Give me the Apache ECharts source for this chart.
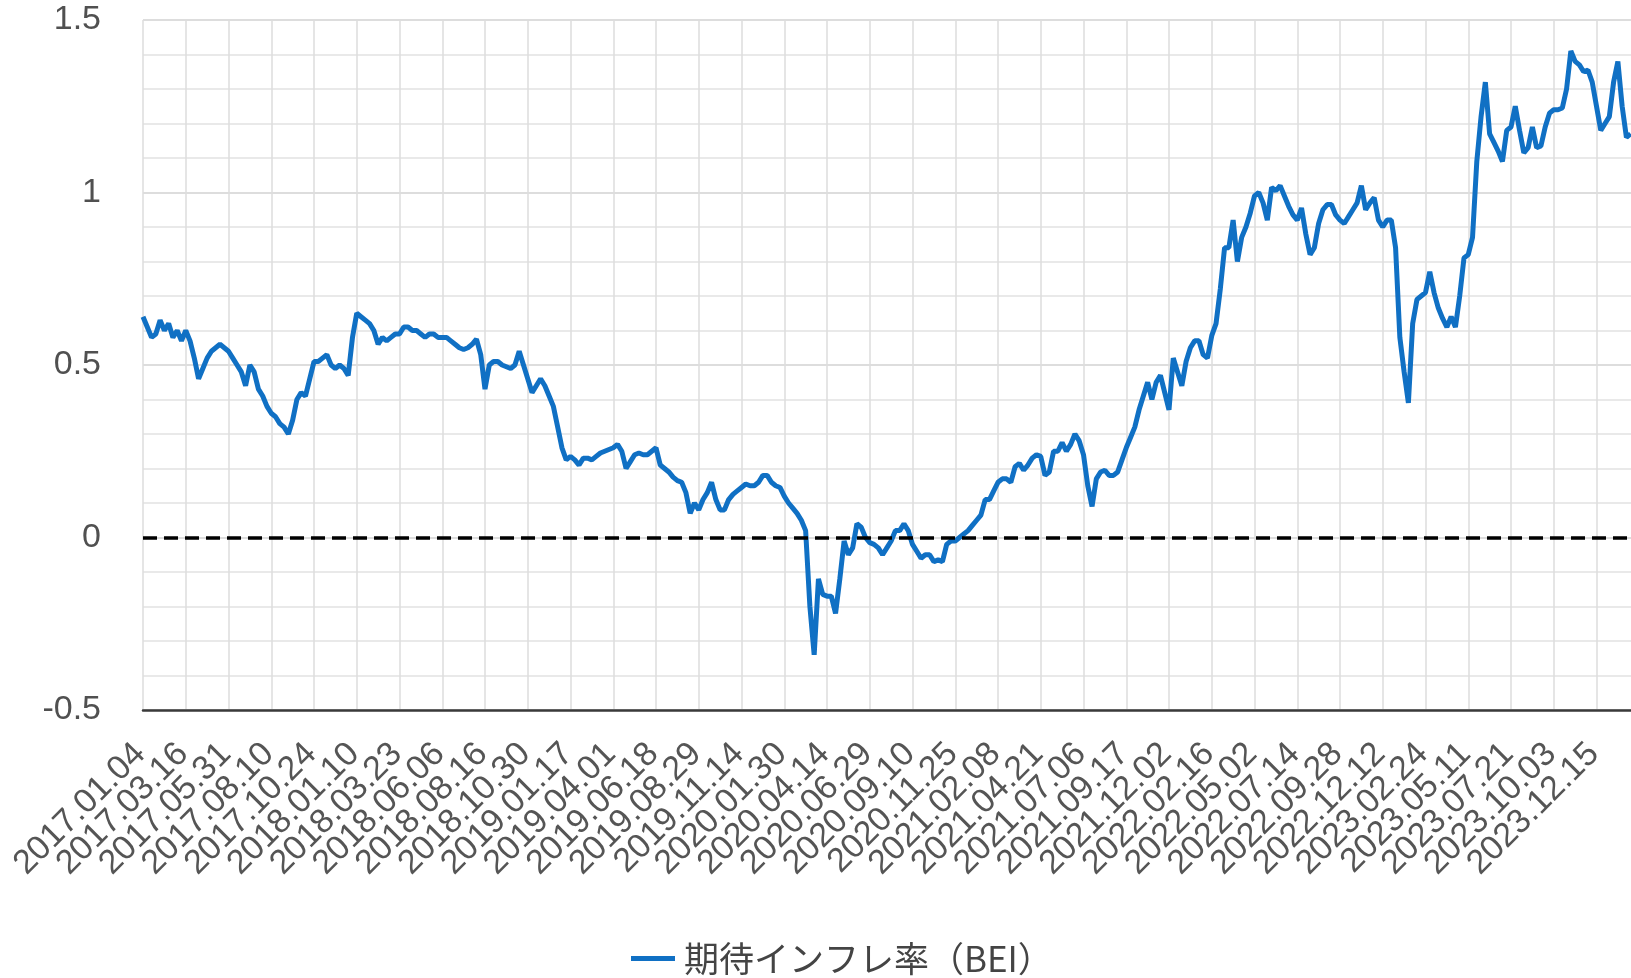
<!DOCTYPE html>
<html>
<head>
<meta charset="utf-8">
<title>期待インフレ率（BEI）</title>
<script src="https://cdn.jsdelivr.net/npm/echarts@6/dist/echarts.min.js"></script>
<style>
  html, body { margin: 0; padding: 0; background: #ffffff; overflow: hidden; }
  #chart { width: 1631px; height: 978px; }
</style>
</head>
<body>
<div id="chart"></div>
<script>
// Date labels shown every 10th sample on the category axis
const tickLabels = [
  '2017.01.04', '2017.03.16', '2017.05.31', '2017.08.10', '2017.10.24',
  '2018.01.10', '2018.03.23', '2018.06.06', '2018.08.16', '2018.10.30',
  '2019.01.17', '2019.04.01', '2019.06.18', '2019.08.29', '2019.11.14',
  '2020.01.30', '2020.04.14', '2020.06.29', '2020.09.10', '2020.11.25',
  '2021.02.08', '2021.04.21', '2021.07.06', '2021.09.17', '2021.12.02',
  '2022.02.16', '2022.05.02', '2022.07.14', '2022.09.28', '2022.12.12',
  '2023.02.24', '2023.05.11', '2023.07.21', '2023.10.03', '2023.12.15'
];
const samplesPerLabel = 10;
const axisSlots = 361; // the axis runs a little past the last visible sample

// Break-even inflation rate (%), sampled along the axis
const bei = [
  0.64, 0.61, 0.58, 0.59, 0.63, 0.60, 0.62, 0.58, 0.60, 0.57,
  0.60, 0.57, 0.52, 0.46, 0.49, 0.52, 0.54, 0.55, 0.56, 0.55,
  0.54, 0.52, 0.50, 0.48, 0.44, 0.50, 0.48, 0.43, 0.41, 0.38,
  0.36, 0.35, 0.33, 0.32, 0.30, 0.34, 0.40, 0.42, 0.41, 0.46,
  0.51, 0.51, 0.52, 0.53, 0.50, 0.49, 0.50, 0.49, 0.47, 0.58,
  0.65, 0.64, 0.63, 0.62, 0.60, 0.56, 0.58, 0.57, 0.58, 0.59,
  0.59, 0.61, 0.61, 0.60, 0.60, 0.59, 0.58, 0.59, 0.59, 0.58,
  0.58, 0.58, 0.57, 0.56, 0.55, 0.545, 0.55, 0.56, 0.575, 0.53,
  0.43, 0.50, 0.51, 0.51, 0.50, 0.495, 0.49, 0.50, 0.54, 0.50,
  0.46, 0.42, 0.44, 0.46, 0.44, 0.41, 0.38, 0.32, 0.26, 0.225,
  0.235, 0.225, 0.21, 0.23, 0.23, 0.225, 0.235, 0.245, 0.25, 0.255,
  0.26, 0.27, 0.25, 0.20, 0.22, 0.24, 0.245, 0.24, 0.24, 0.25,
  0.26, 0.21, 0.20, 0.19, 0.175, 0.165, 0.16, 0.13, 0.07, 0.10,
  0.08, 0.11, 0.13, 0.16, 0.11, 0.08, 0.08, 0.11, 0.125, 0.135,
  0.145, 0.155, 0.15, 0.15, 0.16, 0.18, 0.18, 0.16, 0.15, 0.145,
  0.12, 0.10, 0.085, 0.07, 0.05, 0.02, -0.20, -0.34, -0.12, -0.165,
  -0.17, -0.17, -0.22, -0.12, -0.01, -0.05, -0.03, 0.04, 0.03, 0.00,
  -0.015, -0.02, -0.03, -0.05, -0.03, -0.01, 0.02, 0.02, 0.04, 0.02,
  -0.02, -0.04, -0.06, -0.05, -0.05, -0.07, -0.065, -0.07, -0.02, -0.01,
  -0.01, 0.00, 0.01, 0.02, 0.035, 0.05, 0.065, 0.11, 0.11, 0.135,
  0.16, 0.17, 0.17, 0.16, 0.205, 0.215, 0.195, 0.21, 0.23, 0.24,
  0.235, 0.18, 0.19, 0.25, 0.25, 0.275, 0.25, 0.27, 0.30, 0.28,
  0.24, 0.15, 0.09, 0.17, 0.19, 0.195, 0.18, 0.18, 0.19, 0.225,
  0.26, 0.29, 0.32, 0.37, 0.41, 0.45, 0.40, 0.45, 0.47, 0.42,
  0.37, 0.52, 0.48, 0.44, 0.51, 0.55, 0.57, 0.57, 0.53, 0.52,
  0.585, 0.62, 0.72, 0.84, 0.84, 0.92, 0.80, 0.87, 0.90, 0.94,
  0.99, 1.00, 0.97, 0.92, 1.015, 1.005, 1.02, 0.99, 0.96, 0.935,
  0.92, 0.955, 0.88, 0.82, 0.84, 0.91, 0.95, 0.965, 0.965, 0.935,
  0.92, 0.91, 0.93, 0.95, 0.97, 1.02, 0.95, 0.97, 0.985, 0.92,
  0.90, 0.92, 0.92, 0.84, 0.58, 0.48, 0.39, 0.62, 0.69, 0.70,
  0.71, 0.77, 0.71, 0.665, 0.635, 0.61, 0.64, 0.61, 0.70, 0.81,
  0.82, 0.87, 1.09, 1.22, 1.32, 1.17, 1.145, 1.12, 1.09, 1.18,
  1.19, 1.25, 1.18, 1.115, 1.13, 1.19, 1.13, 1.135, 1.19, 1.23,
  1.24, 1.24, 1.245, 1.30, 1.41, 1.38, 1.37, 1.35, 1.355, 1.32,
  1.25, 1.18, 1.20, 1.22, 1.32, 1.38, 1.25, 1.16, 1.17
];

const seriesName = '期待インフレ率（BEI）';
const categories = Array.from({ length: axisSlots }, (_, i) => String(i));

// Rotated date labels; the two bottom axes take alternate labels so that
// neighbouring labels never compete for space on one axis
const dateLabelStyle = {
  showMinLabel: true,
  showMaxLabel: true,
  hideOverlap: false,
  rotate: 45,
  margin: 36,
  fontSize: 34,
  lineHeight: 26,
  color: '#555555',
  padding: [0, 4, 0, 0],
  formatter: (v, idx) => tickLabels[idx / samplesPerLabel] || ''
};
const labelEvery = (offset) => (idx) =>
  idx % (2 * samplesPerLabel) === offset * samplesPerLabel;

const chart = echarts.init(document.getElementById('chart'), null, { renderer: 'canvas' });

chart.setOption({
  animation: false,
  backgroundColor: '#ffffff',
  textStyle: { fontFamily: '"Liberation Sans", Arial, "Noto Sans CJK JP", sans-serif' },
  // the plot runs on past the right edge of the page
  grid: {
    left: 143, top: 20, width: 1539, bottom: 268,
    containLabel: false,
    outerBoundsMode: 'none'
  },
  legend: {
    data: [seriesName],
    left: 626,
    top: 936,
    icon: 'rect',
    itemWidth: 44,
    itemHeight: 5,
    itemGap: 8,
    textStyle: {
      fontFamily: '"Noto Sans CJK JP", sans-serif',
      fontSize: 35,
      color: '#444444',
      padding: [0, 0, 0, 4]
    }
  },
  xAxis: [
    {
      type: 'category',
      position: 'bottom',
      data: categories,
      boundaryGap: false,
      axisLine: { show: true, onZero: false, lineStyle: { color: '#3a3a3a', width: 2.5 } },
      axisTick: { show: false },
      axisLabel: Object.assign({}, dateLabelStyle, { interval: labelEvery(0) }),
      splitLine: {
        show: true,
        interval: samplesPerLabel - 1,
        lineStyle: { color: '#dcdcdc', width: 1.5 }
      }
    },
    {
      type: 'category',
      position: 'bottom',
      offset: 0,
      data: categories,
      boundaryGap: false,
      axisLine: { show: false, onZero: false },
      axisTick: { show: false },
      axisLabel: Object.assign({}, dateLabelStyle, { interval: labelEvery(1) }),
      splitLine: { show: false }
    }
  ],
  yAxis: {
    type: 'value',
    min: -0.5,
    max: 1.5,
    interval: 0.5,
    axisLine: { show: false },
    axisTick: { show: false },
    axisLabel: {
      margin: 42,
      fontSize: 34,
      color: '#505050',
      formatter: v => String(v)
    },
    splitLine: { show: true, lineStyle: { color: '#d2d2d2', width: 1.5 } },
    minorTick: { show: false, splitNumber: 5 },
    minorSplitLine: { show: true, lineStyle: { color: '#e2e2e2', width: 1.5 } }
  },
  series: [{
    name: seriesName,
    type: 'line',
    xAxisIndex: 0,
    data: bei,
    showSymbol: false,
    symbol: 'none',
    lineStyle: { color: '#1070c4', width: 5 },
    itemStyle: { color: '#1070c4' },
    z: 3,
    markLine: {
      silent: true,
      symbol: ['none', 'none'],
      label: { show: false },
      lineStyle: { color: '#000000', width: 3.6, type: [14, 7] },
      emphasis: { disabled: true },
      data: [{ yAxis: 0 }]
    }
  }]
});
</script>
</body>
</html>
